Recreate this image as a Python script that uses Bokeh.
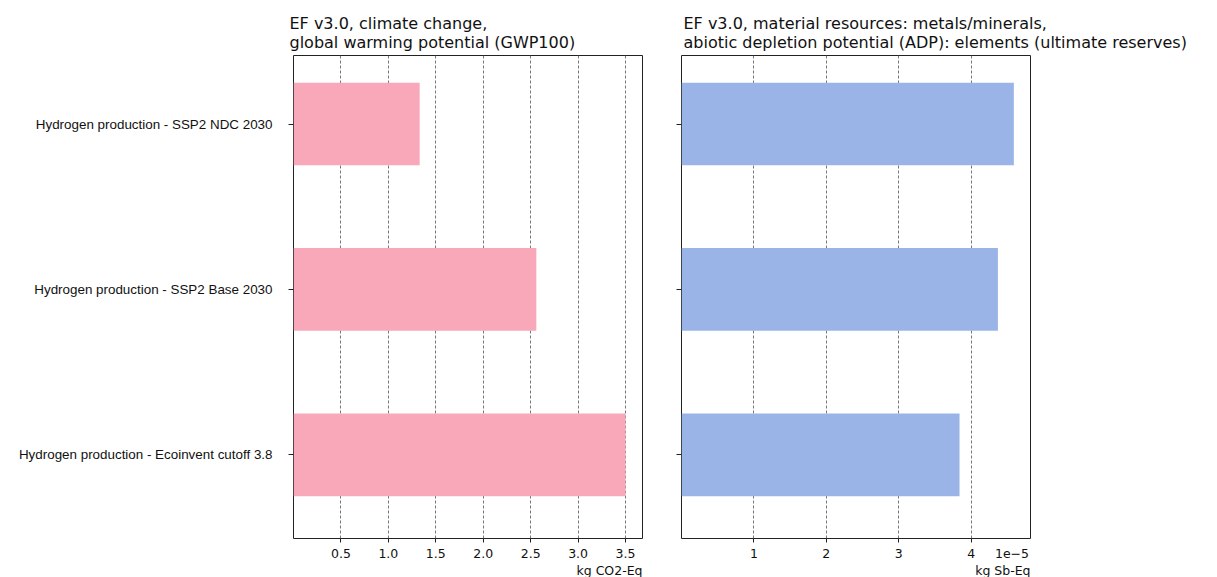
from bokeh.plotting import figure
from bokeh.layouts import row, column
from bokeh.models import FixedTicker, Range1d, Title, CustomJSTickFormatter, LinearAxis
from bokeh.core.properties import value
from bokeh.embed import file_html
from bokeh.resources import INLINE

categories = [
    "Hydrogen production - SSP2 NDC 2030",
    "Hydrogen production - SSP2 Base 2030",
    "Hydrogen production - Ecoinvent cutoff 3.8",
]
positions = [2, 1, 0]
gwp = [1.33, 2.56, 3.50]
adp = [4.59e-5, 4.37e-5, 3.84e-5]
gwp_ticks = [0.5, 1.0, 1.5, 2.0, 2.5, 3.0, 3.5]
adp_ticks = [1e-5, 2e-5, 3e-5, 4e-5]
gwp_title = ["EF v3.0, climate change,", "global warming potential (GWP100)"]
adp_title = ["EF v3.0, material resources: metals/minerals,",
             "abiotic depletion potential (ADP): elements (ultimate reserves)"]
gwp_unit = "kg CO2-Eq"
adp_unit = "kg Sb-Eq"
adp_offset_text = "1e\u22125"

PINK = "#F9A8BA"
BLUE = "#9BB4E8"
FONT = "DejaVu Sans"
TXT = "#111111"
LINE = "#222222"

Y0, Y1 = -0.505, 2.414
GWP_XEND = 3.679
ADP_XEND = 4.82e-5

TITLE_H = 52
MAIN_H = 577 - TITLE_H


def title_fig(width, x_text, lines):
    t = figure(width=width, height=TITLE_H, output_backend="svg", toolbar_location=None,
               x_range=Range1d(0, width), y_range=Range1d(TITLE_H, 0),
               x_axis_location=None, y_axis_location=None, title=None,
               min_border=0, min_border_left=0, min_border_right=0,
               min_border_top=0, min_border_bottom=0)
    t.outline_line_color = None
    t.grid.visible = False
    t.text(x=[x_text, x_text], y=[22.5, 41.5], text=lines, text_font=value(FONT),
           text_font_size="16px", text_color=TXT, text_align="left",
           text_baseline="alphabetic")
    return t


def base_fig(width, bl, br, xend, ticks, label_ticks, fmt_code, unit):
    p = figure(width=width, height=MAIN_H, output_backend="svg", toolbar_location=None,
               x_range=Range1d(0, xend), y_range=Range1d(Y0, Y1), title=None)
    p.min_border_left = bl
    p.min_border_right = br
    p.min_border_top = 3
    p.min_border_bottom = MAIN_H - 3 - 483
    p.outline_line_color = LINE
    p.outline_line_width = 1
    p.ygrid.visible = False
    p.xgrid.ticker = FixedTicker(ticks=ticks)
    p.xgrid.grid_line_color = "#777777"
    p.xgrid.grid_line_dash = "3 2"
    p.xgrid.grid_line_width = 1

    # axis 1: tick stubs only
    ax = p.xaxis[0]
    ax.ticker = FixedTicker(ticks=ticks)
    ax.formatter = CustomJSTickFormatter(code="return '';")
    ax.axis_line_color = None
    ax.major_tick_line_color = LINE
    ax.minor_tick_line_color = None
    ax.major_tick_in = 0
    ax.major_tick_out = 4
    ax.major_label_text_color = None
    ax.major_label_text_font_size = "1px"
    ax.major_label_standoff = 0

    # axis 2: labels only
    ax2 = LinearAxis(ticker=FixedTicker(ticks=label_ticks),
                     formatter=CustomJSTickFormatter(code=fmt_code, args=dict(xend=xend)),
                     axis_line_color=None, major_tick_line_color=None, minor_tick_line_color=None,
                     major_tick_in=0, major_tick_out=0, major_label_standoff=6,
                     major_label_text_font=FONT, major_label_text_font_size="12.5px",
                     major_label_text_color=TXT)
    p.add_layout(ax2, "below")
    p.add_layout(Title(text=unit, align="right", offset=0, text_font=FONT,
                       text_font_size="12.5px", text_font_style="normal", text_color=TXT,
                       standoff=0), "below")

    yax = p.yaxis[0]
    yax.ticker = FixedTicker(ticks=positions)
    yax.axis_line_color = None
    yax.major_tick_line_color = LINE
    yax.minor_tick_line_color = None
    yax.major_tick_in = 0
    yax.major_tick_out = 5
    return p


W1, W2 = 661, 529
t1 = title_fig(W1, 289, gwp_title)
t2 = title_fig(W2, 22, adp_title)

p1 = base_fig(W1, 293, 19, GWP_XEND, gwp_ticks, gwp_ticks, "return tick.toFixed(1);", gwp_unit)
p1.hbar(y=positions, right=gwp, left=0, height=0.5, fill_color=PINK, line_color=None)
p1.yaxis.major_label_overrides = {pos: c for pos, c in zip(positions, categories)}
p1.yaxis.major_label_text_font = "Liberation Sans"
p1.yaxis.major_label_text_font_size = "13.4px"
p1.yaxis.major_label_text_color = TXT
p1.yaxis.major_label_standoff = 16

adp_label_ticks = adp_ticks + [ADP_XEND * 0.947]
p2 = base_fig(W2, 20, 160, ADP_XEND, adp_ticks, adp_label_ticks,
              "if (tick > xend * 0.9) { return '" + adp_offset_text + "'; } return (tick * 1e5).toFixed(0);",
              adp_unit)
p2.hbar(y=positions, right=adp, left=0, height=0.5, fill_color=BLUE, line_color=None)
p2.yaxis.formatter = CustomJSTickFormatter(code="return '';")
p2.yaxis.major_label_text_color = None
p2.yaxis.major_label_text_font_size = "1px"
p2.yaxis.major_label_standoff = 0

layout = column(row(t1, t2), row(p1, p2))
open("out.html", "w").write(file_html(layout, INLINE))
